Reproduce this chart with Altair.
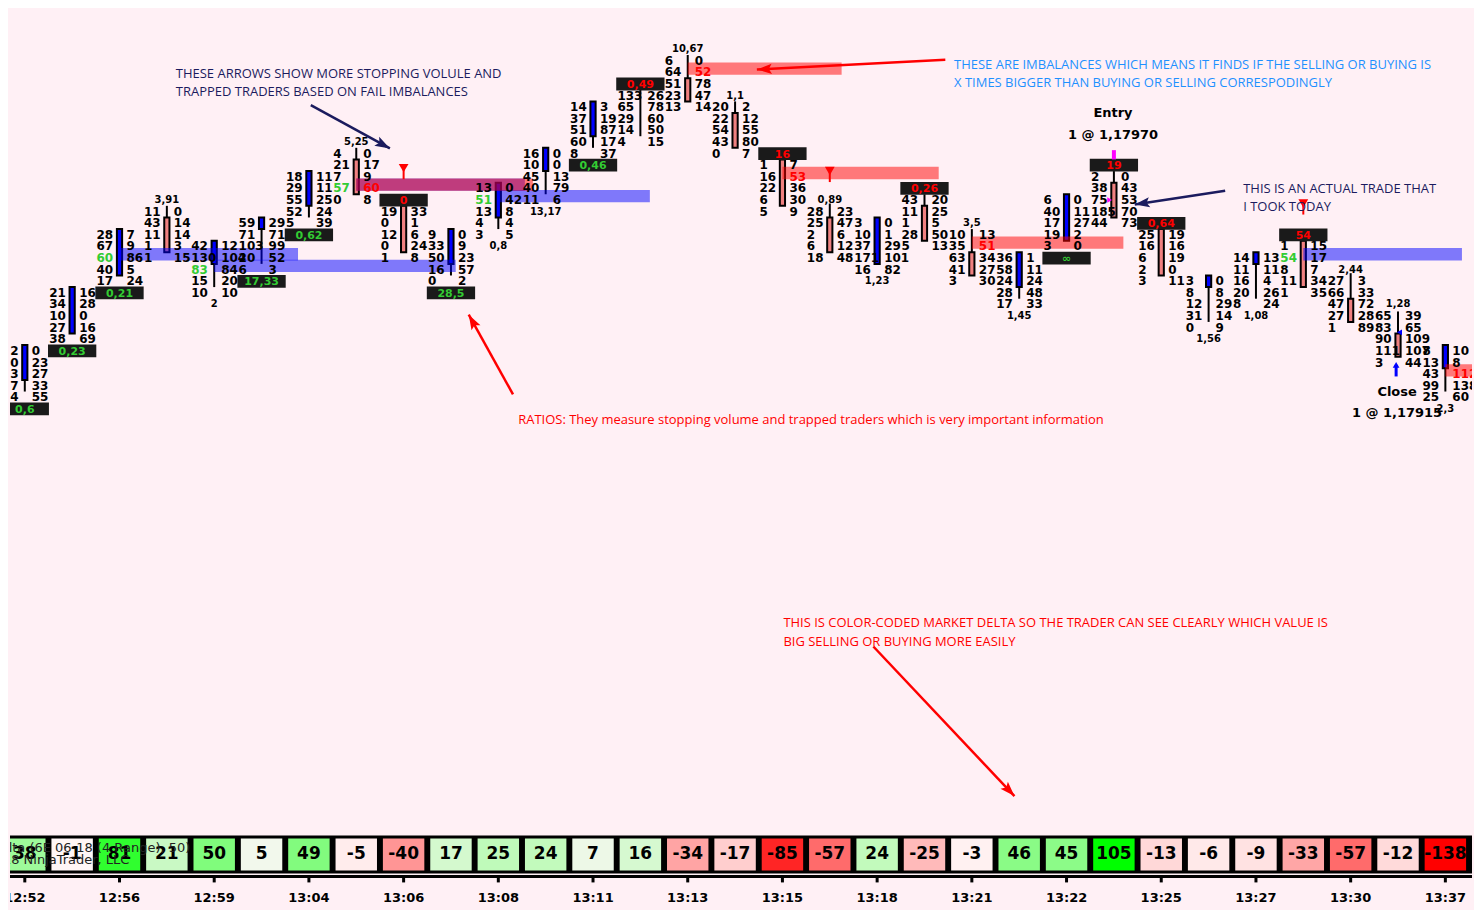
import math
import altair as alt
import pandas as pd

# ---------------- data ----------------
TIMES = ["12:52", "12:56", "12:59", "13:04", "13:06", "13:08", "13:11", "13:13",
         "13:15", "13:18", "13:21", "13:22", "13:25", "13:27", "13:30", "13:37"]
TIME_COLS = [0, 2, 4, 6, 8, 10, 12, 14, 16, 18, 20, 22, 24, 26, 28, 30]

# price level index of each bar's first (highest) row; level 12 = 1,17970, one level = 0,00005
TOP_LEVEL = [25, 20, 15, 13, 16, 14, 10, 8, 13, 15, 11, 8, 4, 3, 0, 4, 9, 13, 14, 12,
             15, 17, 12, 10, 15, 19, 17, 16, 19, 22, 25]

BIDS = [
    [12, 20, 13, 17, 14], [21, 34, 10, 27, 38], [28, 67, 60, 40, 17], [11, 43, 11, 1, 1],
    [42, 130, 83, 15, 10], [59, 71, 103, 20, 6], [18, 29, 55, 52, 5], [4, 21, 7, 57, 0],
    [19, 0, 12, 0, 1], [9, 33, 50, 16, 0], [13, 51, 13, 4, 3], [16, 10, 45, 40, 11],
    [14, 37, 51, 60, 8], [133, 65, 29, 14, 4], [6, 64, 51, 23, 13], [20, 22, 54, 43, 0],
    [1, 16, 22, 6, 5], [28, 25, 2, 6, 18], [3, 10, 37, 171, 16], [43, 11, 1, 28, 5],
    [10, 35, 63, 41, 3], [36, 58, 24, 28, 17], [6, 40, 17, 19, 3], [2, 38, 75, 185, 44],
    [25, 16, 6, 2, 3], [3, 8, 12, 31, 0], [14, 11, 16, 20, 8], [1, 54, 8, 11, 1],
    [27, 66, 47, 27, 1], [65, 83, 90, 111, 3], [8, 13, 43, 99, 25],
]
ASKS = [
    [0, 23, 27, 33, 55], [16, 28, 0, 16, 69], [7, 9, 86, 5, 24], [0, 14, 14, 3, 15],
    [12, 104, 84, 20, 10], [29, 71, 99, 52, 3], [11, 11, 25, 24, 39], [0, 17, 9, 60, 8],
    [33, 1, 6, 24, 8], [0, 9, 23, 57, 2], [0, 42, 8, 4, 5], [0, 0, 13, 79, 6],
    [3, 19, 87, 17, 37], [26, 78, 60, 50, 15], [0, 52, 78, 47, 14], [2, 12, 55, 80, 7],
    [7, 53, 36, 30, 9], [23, 47, 6, 12, 48], [0, 1, 29, 101, 82], [20, 25, 5, 50, 13],
    [13, 51, 34, 27, 30], [1, 11, 24, 48, 33], [0, 11, 27, 2, 0], [0, 43, 53, 70, 73],
    [19, 16, 19, 0, 11], [0, 8, 29, 14, 9], [13, 11, 4, 26, 24], [15, 17, 7, 34, 35],
    [3, 33, 72, 28, 89], [39, 65, 109, 107, 44], [10, 8, 112, 138, 60],
]

# candle open / high / low / close, in price-level units (smaller = higher price)
OPEN = [27.5, 23.5, 18.5, 13.5, 17.5, 14.5, 12.5, 8.5, 12.5, 17.5, 13.5, 9.5, 6.5, 2.0, 1.5,
        4.5, 8.5, 13.5, 17.5, 12.5, 16.5, 19.5, 15.5, 10.5, 14.5, 19.5, 17.5, 15.5, 20.5, 23.5, 26.5]
HIGH = [24.5, 19.5, 14.5, 12.5, 15.5, 13.5, 9.5, 7.5, 12.0, 14.5, 10.5, 7.5, 3.5, 2.0, -0.5,
        3.5, 8.0, 12.3, 13.5, 11.5, 14.5, 16.5, 11.5, 9.5, 14.0, 18.5, 16.5, 15.0, 18.3, 21.6, 24.5]
LOW = [28.5, 23.5, 18.5, 16.5, 19.5, 17.5, 13.5, 11.5, 16.5, 18.5, 14.5, 11.5, 7.5, 6.5, 3.5,
       7.5, 12.5, 16.5, 17.5, 15.5, 18.5, 20.5, 15.5, 13.5, 18.5, 22.5, 20.5, 19.5, 22.5, 25.5, 28.5]
CLOSE = [24.5, 19.5, 14.5, 16.5, 15.5, 13.5, 9.5, 11.5, 16.5, 14.5, 10.5, 7.5, 3.5, 2.0, 3.5,
         7.5, 12.5, 16.5, 13.5, 15.5, 18.5, 16.5, 11.5, 13.5, 18.5, 18.5, 16.5, 19.5, 22.5, 25.5, 24.5]

DELTA = [38, -1, 81, 21, 50, 5, 49, -5, -40, 17, 25, 24, 7, 16, -34, -17, -85, -57, 24, -25,
         -3, 46, 45, 105, -13, -6, -9, -33, -57, -12, -138]

# imbalances: bar, row inside the bar, side, bar where the zone stops
IMB_COL = [2, 4, 7, 7, 10, 14, 16, 20, 27, 30]
IMB_ROW = [2, 2, 3, 3, 1, 1, 1, 1, 1, 2]
IMB_SIDE = ["buy", "buy", "buy", "sell", "buy", "sell", "sell", "sell", "buy", "sell"]
IMB_END = [5.77, 9.1, 10.56, 10.73, 13.2, 17.25, 19.3, 23.2, 30.35, 31.5]

RATIO_COL = [0, 1, 2, 5, 6, 8, 9, 12, 13, 16, 19, 22, 23, 24, 27]
RATIO_TXT = ["0,6", "0,23", "0,21", "17,33", "0,62", "0", "28,5", "0,46", "0,49", "16",
             "0,26", "\u221e", "19", "0,64", "54"]
RATIO_POS = ["below", "below", "below", "below", "below", "above", "below", "below", "above",
             "above", "above", "below", "above", "above", "above"]

LABEL_COL = [3, 4, 7, 10, 11, 14, 15, 17, 18, 20, 21, 25, 26, 28, 29, 30]
LABEL_TXT = ["3,91", "2", "5,25", "0,8", "13,17", "10,67", "1,1", "0,89", "1,23", "3,5",
             "1,45", "1,56", "1,08", "2,44", "1,28", "2,3"]
LABEL_POS = ["above", "below", "above", "below", "below", "above", "above", "above", "below",
             "above", "below", "below", "below", "above", "above", "below"]

FAIL_COL = [8, 17, 27]
FAIL_LEVEL = [9.25, 9.5, 12.3]

ENTRY_COL, ENTRY_LEVEL = 23, 12
EXIT_COL, EXIT_LEVEL = 29, 23

ANNOT_TEXT = [
    "THESE ARROWS SHOW MORE STOPPING VOLULE AND",
    "TRAPPED TRADERS BASED ON FAIL IMBALANCES",
    "THESE ARE IMBALANCES WHICH MEANS IT FINDS IF THE SELLING OR BUYING IS",
    "X TIMES BIGGER THAN BUYING OR SELLING CORRESPODINGLY",
    "THIS IS AN ACTUAL TRADE THAT",
    "I TOOK TODAY",
    "RATIOS: They measure stopping volume and trapped traders which is very important information",
    "THIS IS COLOR-CODED MARKET DELTA SO THE TRADER CAN SEE CLEARLY WHICH VALUE IS",
    "BIG SELLING OR BUYING  MORE EASILY",
]
ANNOT_COL = [3.19, 3.19, 19.625, 19.625, 25.73, 25.73, 10.42, 16.02, 16.02]
ANNOT_LEVEL = [1.10, 2.71, 0.34, 1.95, 11.03, 12.64, 30.96, 48.43, 50.04]
ANNOT_KIND = ["navy", "navy", "blue", "blue", "navy", "navy", "red", "red", "red"]

ARROW_FROM = [(6.04, 3.82), (19.44, -0.09), (25.35, 11.20), (10.31, 28.75), (17.92, 50.47)]
ARROW_TO = [(7.71, 7.55), (15.46, 0.76), (23.44, 12.38), (9.375, 21.88), (20.90, 63.36)]
ARROW_KIND = ["navy", "red", "navy", "red", "red"]

TRADE_TEXT = ["Entry", "1 @ 1,17970", "Close", "1 @ 1,17915"]
TRADE_COL = [22.98, 22.98, 28.98, 28.98]
TRADE_LEVEL = [4.5, 6.36, 28.58, 30.37]

# ---------------- layout / styles ----------------
W = 1464
H1 = 826
H2 = 76
X_DOM = [-0.3125, 30.5625]
Y_DOM = [-4.4953, 66.582]
PXC = W / (X_DOM[1] - X_DOM[0])
PXL = H1 / (Y_DOM[1] - Y_DOM[0])
BG = "#FFF0F5"
NUMF = "DejaVu Sans"
KIND_COLOR = {"normal": "#000000", "buy": "#33CC33", "sell": "#FF0000",
              "below": "#33CC33", "above": "#FF0000",
              "navy": "#1B1B5E", "blue": "#1E90FF", "red": "#FF0000",
              "up": "#0000FF", "down": "#F08080"}

xs = alt.Scale(domain=X_DOM, nice=False, zero=False)
ys = alt.Scale(domain=Y_DOM, reverse=True, nice=False, zero=False)


def X(f):
    return alt.X(f, type="quantitative", scale=xs, axis=None)


def Y(f):
    return alt.Y(f, type="quantitative", scale=ys, axis=None)


def C(f):
    return alt.Color(f, type="nominal", scale=None)


# numbers table
num_rows = []
for c in range(31):
    for r in range(5):
        lvl = TOP_LEVEL[c] + r
        bk, ak = "normal", "normal"
        for ic, ir, s in zip(IMB_COL, IMB_ROW, IMB_SIDE):
            if ic == c and ir == r:
                if s == "buy":
                    bk = "buy"
                else:
                    ak = "sell"
        num_rows.append(dict(col=c, level=lvl, val=str(BIDS[c][r]), side="bid", clr=KIND_COLOR[bk]))
        num_rows.append(dict(col=c, level=lvl, val=str(ASKS[c][r]), side="ask", clr=KIND_COLOR[ak]))
nums = pd.DataFrame(num_rows)

bid_layer = alt.Chart(nums[nums.side == "bid"]).mark_text(
    align="left", baseline="middle", dx=-23, font=NUMF, fontWeight="bold", fontSize=12, clip=True
).encode(x=X("col"), y=Y("level"), text="val:N", color=C("clr"))
ask_layer = alt.Chart(nums[nums.side == "ask"]).mark_text(
    align="left", baseline="middle", dx=7, font=NUMF, fontWeight="bold", fontSize=12, clip=True
).encode(x=X("col"), y=Y("level"), text="val:N", color=C("clr"))

candles = pd.DataFrame(dict(col=list(range(31)), o=OPEN, h=HIGH, l=LOW, c=CLOSE))
candles["clr"] = [KIND_COLOR["up"] if cc < oo else KIND_COLOR["down"] for oo, cc in zip(OPEN, CLOSE)]
candles["x1"] = candles["col"] - 0.055
candles["x2"] = candles["col"] + 0.055

wicks = alt.Chart(candles).mark_rule(color="black", strokeWidth=2).encode(
    x=X("col"), y=Y("h"), y2="l")
bodies = alt.Chart(candles).mark_rect(stroke="black", strokeWidth=2).encode(
    x=X("x1"), x2="x2", y=Y("o"), y2="c", color=C("clr"))

bands = pd.DataFrame(dict(col=IMB_COL, end=IMB_END, side=IMB_SIDE,
                          level=[TOP_LEVEL[c] + r for c, r in zip(IMB_COL, IMB_ROW)]))
bands["y1"] = bands["level"] - 0.86
bands["y2"] = bands["level"] + 0.2
band_layers = []
for side, colr in (("buy", "#0000FF"), ("sell", "#FF0000")):
    band_layers.append(alt.Chart(bands[bands.side == side]).mark_rect(
        color=colr, opacity=0.5, clip=True).encode(x=X("col"), x2="end", y=Y("y1"), y2="y2"))

ratios = pd.DataFrame(dict(col=RATIO_COL, txt=RATIO_TXT, pos=RATIO_POS))
ratios["level"] = [TOP_LEVEL[c] + 5 if p == "below" else TOP_LEVEL[c] - 1
                   for c, p in zip(RATIO_COL, RATIO_POS)]
ratios["clr"] = [KIND_COLOR[p] for p in RATIO_POS]
ratios["x1"] = ratios["col"] - 0.51
ratios["x2"] = ratios["col"] + 0.51
ratios["y1"] = ratios["level"] - 0.55
ratios["y2"] = ratios["level"] + 0.55
ratio_box = alt.Chart(ratios).mark_rect(color="#1A1A1A", clip=True).encode(
    x=X("x1"), x2="x2", y=Y("y1"), y2="y2")
ratio_txt = alt.Chart(ratios).mark_text(
    font=NUMF, fontWeight="bold", fontSize=11, baseline="middle", dy=1, clip=True
).encode(x=X("col"), y=Y("level"), text="txt:N", color=C("clr"))

labels = pd.DataFrame(dict(col=LABEL_COL, txt=LABEL_TXT, pos=LABEL_POS))
labels["level"] = [TOP_LEVEL[c] + 5 if p == "below" else TOP_LEVEL[c] - 1
                   for c, p in zip(LABEL_COL, LABEL_POS)]
label_layer = alt.Chart(labels).mark_text(
    font=NUMF, fontWeight="bold", fontSize=10, baseline="middle", color="black", clip=True
).encode(x=X("col"), y=Y("level"), text="txt:N")

fails = pd.DataFrame(dict(col=FAIL_COL, level=FAIL_LEVEL))
fails["stem"] = fails["level"] + 0.95
fail_stem = alt.Chart(fails).mark_rule(color="#FF0000", strokeWidth=2).encode(
    x=X("col"), y=Y("level"), y2="stem")
fail_tri = alt.Chart(fails).mark_point(shape="triangle-down", filled=True, size=95,
                                       color="#FF0000", opacity=1).encode(x=X("col"), y=Y("level"))

entry = pd.DataFrame(dict(col=[ENTRY_COL], level=[ENTRY_LEVEL]))
entry["tick1"] = entry["level"] - 4.3
entry["tick2"] = entry["level"] - 3.5
entry["mx"] = entry["col"] - 0.09
entry_tick = alt.Chart(entry).mark_rule(color="#FF00FF", strokeWidth=4).encode(
    x=X("col"), y=Y("tick1"), y2="tick2")
entry_tri = alt.Chart(entry).mark_point(shape="triangle-right", filled=True, size=30,
                                        color="#FF00FF", opacity=1).encode(x=X("mx"), y=Y("level"))

exitp = pd.DataFrame(dict(col=[EXIT_COL], level=[EXIT_LEVEL]))
exitp["ax"] = exitp["col"] - 0.04
exitp["a1"] = exitp["level"] + 3.2
exitp["a2"] = exitp["level"] + 4.2
exitp["tx"] = exitp["col"] + 0.03
exitp["tl"] = exitp["level"] + 0.4
exit_stem = alt.Chart(exitp).mark_rule(color="#0000FF", strokeWidth=3).encode(
    x=X("ax"), y=Y("a1"), y2="a2")
exit_head = alt.Chart(exitp).mark_point(shape="triangle-up", filled=True, size=45,
                                        color="#0000FF", opacity=1).encode(x=X("ax"), y=Y("a1"))
exit_tri = alt.Chart(exitp).mark_point(shape="triangle-left", filled=True, size=35,
                                       color="#0000FF", opacity=1).encode(x=X("tx"), y=Y("tl"))

ann = pd.DataFrame(dict(txt=ANNOT_TEXT, col=ANNOT_COL, level=ANNOT_LEVEL))
ann["clr"] = [KIND_COLOR[k] for k in ANNOT_KIND]
ann_layer = alt.Chart(ann).mark_text(
    font="Open Sans", fontSize=13, align="left", baseline="middle", clip=True
).encode(x=X("col"), y=Y("level"), text="txt:N", color=C("clr"))

arr_rows = []
for (c1, l1), (c2, l2), k in zip(ARROW_FROM, ARROW_TO, ARROW_KIND):
    th = math.degrees(math.atan2((l2 - l1) * PXL, (c2 - c1) * PXC))
    arr_rows.append(dict(c1=c1, l1=l1, c2=c2, l2=l2, clr=KIND_COLOR[k], ang=(th + 90) % 360))
arrows = pd.DataFrame(arr_rows)
arrow_lines = alt.Chart(arrows).mark_rule(strokeWidth=2.5).encode(
    x=X("c1"), y=Y("l1"), x2="c2", y2="l2", color=C("clr"))
arrow_heads = alt.Chart(arrows).mark_point(
    shape="M0,0L0.34,1L0,0.8L-0.34,1Z", filled=True, size=900, opacity=1, strokeWidth=0
).encode(x=X("c2"), y=Y("l2"), angle=alt.Angle("ang:Q", scale=None), color=C("clr"))

trade = pd.DataFrame(dict(txt=TRADE_TEXT, col=TRADE_COL, level=TRADE_LEVEL))
trade_layer = alt.Chart(trade).mark_text(
    font=NUMF, fontWeight="bold", fontSize=13, baseline="middle", color="black"
).encode(x=X("col"), y=Y("level"), text="txt:N")

top = alt.layer(
    wicks, bodies, *band_layers, bid_layer, ask_layer, ratio_box, ratio_txt, label_layer,
    fail_stem, fail_tri, entry_tick, entry_tri, exit_stem, exit_head, exit_tri,
    arrow_lines, arrow_heads, ann_layer, trade_layer
).properties(width=W, height=H1)

# ---------------- delta strip and time axis ----------------
one = pd.DataFrame(dict(a=[0]))
delta = pd.DataFrame(dict(col=list(range(31)), delta=DELTA))
delta["lbl"] = [str(v) for v in DELTA]
delta["x1"] = delta["col"] - 0.4375
delta["x2"] = delta["col"] + 0.4375
times = pd.DataFrame(dict(col=TIME_COLS, t=TIMES))

strip = alt.Chart(one).mark_rect(color="black").encode(
    x=alt.value(0), x2=alt.value(W), y=alt.value(2), y2=alt.value(40))
cells = alt.Chart(delta).mark_rect(clip=True).encode(
    x=X("x1"), x2="x2", y=alt.value(5), y2=alt.value(37),
    color=alt.Color("delta:Q", scale=alt.Scale(domain=[-100, 0, 100],
                                               range=["#FF0000", "#FFF8F8", "#00FF00"],
                                               clamp=True, interpolate="rgb"), legend=None))
cell_txt = alt.Chart(delta).mark_text(
    font=NUMF, fontWeight="bold", fontSize=17, baseline="middle", color="black", clip=True
).encode(x=X("col"), y=alt.value(21), text="lbl:N")
over = pd.DataFrame(dict(txt=["Delta (6E 06-18 (4 Range), 50)", "\u00a9 2018 NinjaTrader, LLC"],
                         col=[-0.72, -1.17]))
over1 = alt.Chart(over.iloc[[0]]).mark_text(
    font=NUMF, fontSize=13, align="left", baseline="middle", color="#222222", clip=True
).encode(x=X("col"), y=alt.value(15), text="txt:N")
over2 = alt.Chart(over.iloc[[1]]).mark_text(
    font=NUMF, fontSize=13, align="left", baseline="middle", color="#222222", clip=True
).encode(x=X("col"), y=alt.value(27), text="txt:N")
axis_line = alt.Chart(one).mark_rule(color="black", strokeWidth=3).encode(
    x=alt.value(0), x2=alt.value(W), y=alt.value(43))
ticks = alt.Chart(times).mark_rule(color="black", strokeWidth=3).encode(
    x=X("col"), y=alt.value(44), y2=alt.value(49))
tick_lbl = alt.Chart(times).mark_text(
    font=NUMF, fontWeight="bold", fontSize=13, baseline="middle", color="black", clip=True
).encode(x=X("col"), y=alt.value(65), text="t:N")

bottom = alt.layer(strip, cells, cell_txt, over1, over2, axis_line, ticks, tick_lbl).properties(
    width=W, height=H2)

chart = alt.vconcat(top, bottom, spacing=0).properties(
    padding=0, background=BG
).configure_view(stroke=None).configure_concat(spacing=0)

chart.save("out.html", embed_options={"renderer": "svg", "actions": False})
